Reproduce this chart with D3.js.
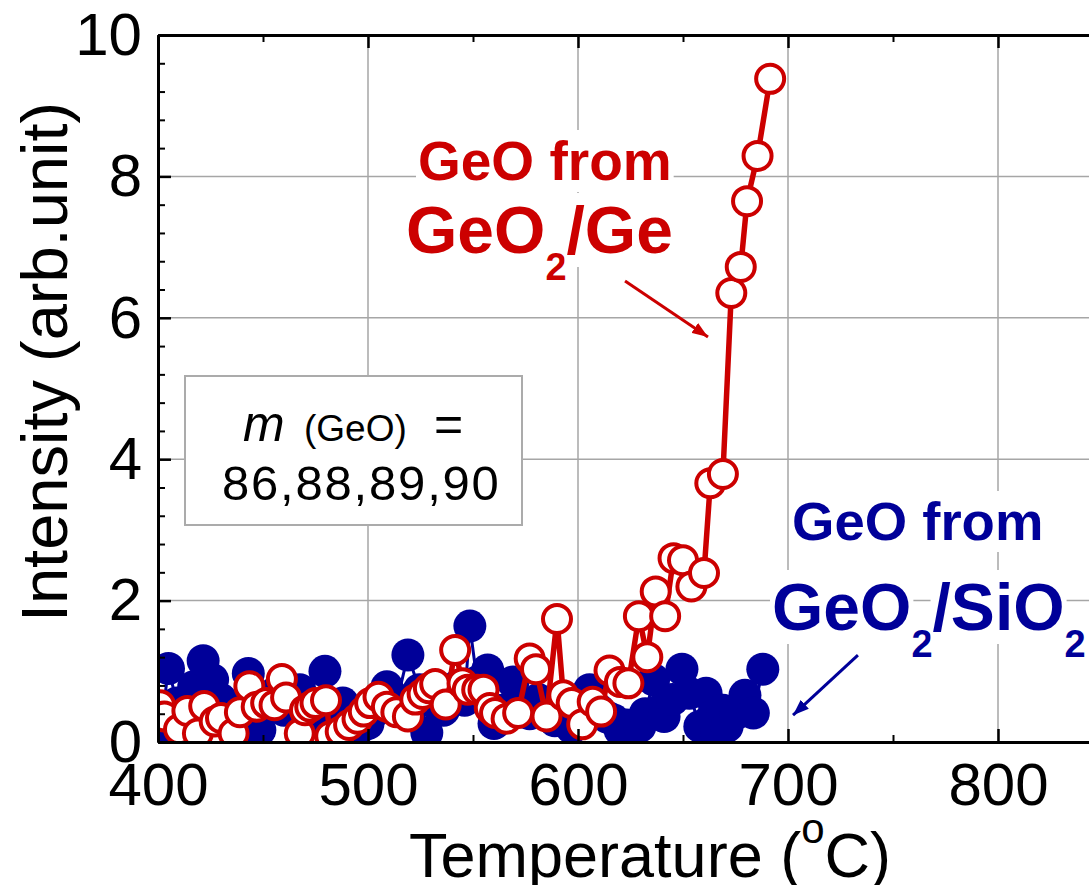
<!DOCTYPE html>
<html>
<head>
<meta charset="utf-8">
<script src="https://cdn.jsdelivr.net/npm/d3@7"></script>
<style>
  html, body { margin: 0; padding: 0; background: #fff; }
  svg { display: block; }
</style>
</head>
<body>
<svg></svg>
<script>
// GeO desorption from GeO2/Ge (red, open) and GeO2/SiO2 (blue, filled)
const redTemp = [401, 403, 410, 414, 419, 422, 427, 430, 436, 439, 443.5, 447, 451.5, 455.5, 459, 461,
    467.5, 470, 472.5, 475, 480, 482, 487, 491, 495, 498, 501, 505, 509, 513.5, 519, 522.5, 526, 529,
    532, 537, 541.5, 545, 547.5, 552, 555, 558, 560.5, 566, 571.5, 577, 580, 585, 590, 593, 597, 602,
    607, 611, 615, 620, 624, 629, 633, 637, 641.5, 645.5, 650, 654, 660, 663, 669, 673, 677.5, 680.5,
    685.5, 691.5];
const redInt = [0.52, 0.36, 0.18, 0.44, 0.12, 0.51, 0.29, 0.34, 0.12, 0.42, 0.79, 0.50, 0.55, 0.52, 0.89, 0.63,
    0.12, 0.45, 0.50, 0.55, 0.59, 0.08, 0.15, 0.24, 0.33, 0.43, 0.55, 0.64, 0.50, 0.42, 0.36, 0.60, 0.68, 0.76,
    0.82, 0.53, 1.30, 0.83, 0.74, 0.74, 0.74, 0.48, 0.41, 0.33, 0.41, 1.18, 1.03, 0.36, 1.74, 0.66, 0.55, 0.25,
    0.57, 0.43, 1.01, 0.85, 0.83, 1.78, 1.20, 2.13, 1.78, 2.60, 2.57, 2.20, 2.39, 3.66, 3.79, 6.35, 6.72, 7.65,
    8.29, 9.38];

const blueTemp = [401, 405, 409, 412, 417, 421.5, 426, 430, 434, 438, 443, 448.5, 452, 456, 460, 464, 467.5,
    472, 476, 479.5, 484, 488, 492, 496, 500, 504, 509, 514, 519, 524.5, 528, 532, 536, 540, 543, 546,
    548.5, 552, 557, 560, 564, 569, 573, 577, 581, 585, 589, 593, 597, 601, 605.5, 610, 614, 617, 620,
    623, 626, 629.5, 632, 636, 639, 641, 645, 649.5, 653, 658, 661, 664, 666, 669, 671, 675, 679.5,
    683.5, 688];
const blueInt = [0.13, 1.04, 0.55, 0.40, 0.78, 1.15, 0.88, 0.60, 0.45, 0.30, 0.97, 0.17, 0.60, 0.70, 0.45, 0.55, 0.74,
    0.40, 0.30, 1.00, 0.45, 0.55, 0.35, 0.20, 0.26, 0.45, 0.78, 0.60, 1.23, 0.74, 0.13, 0.55, 0.45, 0.60, 0.80, 0.59,
    1.64, 0.85, 1.02, 0.26, 0.45, 0.85, 0.55, 0.40, 0.60, 0.55, 0.30, 0.45, 0.20, 0.50, 0.74, 0.45, 0.35, 0.31, 0.17,
    0.24, 0.17, 0.22, 0.40, 0.88, 0.45, 0.36, 0.60, 1.03, 0.69, 0.22, 0.69, 0.36, 0.13, 0.45, 0.22, 0.40, 0.66,
    0.41, 1.03];

const xTicks = [400, 500, 600, 700, 800];
const xMinor = [450, 550, 650, 750, 850];
const yTicks = [0, 2, 4, 6, 8, 10];
const yMinor = [0.4, 0.8, 1.2, 1.6, 2.4, 2.8, 3.2, 3.6, 4.4, 4.8, 5.2, 5.6, 6.4, 6.8, 7.2, 7.6, 8.4, 8.8, 9.2, 9.6];

const width = 1089;
const height = 885;
const red = "#cc0000";
const blue = "#000099";
const grid = "#a6a6a6";
const font = "'Liberation Sans', Arial, sans-serif";

const svg = d3.select("svg")
    .attr("width", width)
    .attr("height", height);

const x = d3.scaleLinear().domain([400, 850]).range([158, 1103]);
const y = d3.scaleLinear().domain([0, 10]).range([742, 35]);

svg.append("defs").append("clipPath")
    .attr("id", "plot")
    .append("rect")
    .attr("x", x(400))
    .attr("y", y(10))
    .attr("width", x(850) - x(400))
    .attr("height", y(0) - y(10));

// grid
svg.append("g").selectAll("line")
    .data(xTicks.slice(1))
    .join("line")
    .attr("x1", d => x(d)).attr("x2", d => x(d))
    .attr("y1", y(0)).attr("y2", y(10))
    .attr("stroke", grid).attr("stroke-width", 1.5);

svg.append("g").selectAll("line")
    .data(yTicks.slice(1, -1))
    .join("line")
    .attr("x1", x(400)).attr("x2", x(850))
    .attr("y1", d => y(d)).attr("y2", d => y(d))
    .attr("stroke", grid).attr("stroke-width", 1.5);

// legend box
const box = svg.append("g").attr("font-family", font);
box.append("rect")
    .attr("x", 185).attr("y", 376)
    .attr("width", 337).attr("height", 149)
    .attr("fill", "#fff")
    .attr("stroke", "#ababab")
    .attr("stroke-width", 2);
box.append("text")
    .attr("x", 243).attr("y", 441)
    .attr("font-style", "italic")
    .attr("font-size", 50)
    .text("m");
box.append("text")
    .attr("x", 304).attr("y", 441)
    .attr("font-size", 37)
    .text("(GeO)");
box.append("text")
    .attr("x", 434).attr("y", 441)
    .attr("font-size", 50)
    .text("=");
box.append("text")
    .attr("x", 222).attr("y", 500)
    .attr("font-size", 49)
    .attr("letter-spacing", 1.8)
    .text("86,88,89,90");

// annotation text with white backgrounds, one chunk at a time
const notes = svg.append("g");
function chunk(str, px, py, size, color) {
    const g = notes.append("g");
    const t = g.append("text")
        .attr("x", px).attr("y", py)
        .attr("font-family", font)
        .attr("font-weight", "bold")
        .attr("font-size", size)
        .attr("fill", color)
        .text(str);
    const b = t.node().getBBox();
    g.insert("rect", "text")
        .attr("x", b.x - 2).attr("y", b.y)
        .attr("width", b.width + 4).attr("height", b.height)
        .attr("fill", "#fff");
    return px + t.node().getComputedTextLength();
}
function formula(parts, px, py, big, small, color) {
    let cx = px;
    parts.forEach(([s, sub]) => {
        cx = sub ? chunk(s, cx, py + 27, small, color) : chunk(s, cx, py, big, color);
    });
}

chunk("GeO from", 418, 180, 55, red);
formula([["GeO", 0], ["2", 1], ["/Ge", 0]], 406, 253, 66, 38, red);
chunk("GeO from", 792, 540, 54.5, blue);
formula([["GeO", 0], ["2", 1], ["/SiO", 0], ["2", 1]], 772, 630, 66, 38, blue);

// arrows
const defs = svg.select("defs");
[["arrRed", red], ["arrBlue", blue]].forEach(([id, c]) => {
    defs.append("marker")
        .attr("id", id)
        .attr("viewBox", "0 0 16 12")
        .attr("refX", 16).attr("refY", 6)
        .attr("markerWidth", 16).attr("markerHeight", 12)
        .attr("markerUnits", "userSpaceOnUse")
        .attr("orient", "auto")
        .append("path")
        .attr("d", "M0,0L16,6L0,12Z")
        .attr("fill", c);
});
svg.append("line")
    .attr("x1", x(622.4)).attr("y1", y(6.52))
    .attr("x2", x(661.9)).attr("y2", y(5.73))
    .attr("stroke", red).attr("stroke-width", 3)
    .attr("marker-end", "url(#arrRed)");
svg.append("line")
    .attr("x1", x(733.3)).attr("y1", y(1.23))
    .attr("x2", x(702.4)).attr("y2", y(0.38))
    .attr("stroke", blue).attr("stroke-width", 3)
    .attr("marker-end", "url(#arrBlue)");

// series
const plot = svg.append("g").attr("clip-path", "url(#plot)");
const blueData = blueTemp.map((t, i) => [t, blueInt[i]]);
const redData = redTemp.map((t, i) => [t, redInt[i]]);
const line = d3.line().x(d => x(d[0])).y(d => y(d[1]));

plot.append("path")
    .datum(blueData)
    .attr("d", line)
    .attr("fill", "none")
    .attr("stroke", blue)
    .attr("stroke-width", 3);
plot.append("g").selectAll("circle")
    .data(blueData)
    .join("circle")
    .attr("cx", d => x(d[0]))
    .attr("cy", d => y(d[1]))
    .attr("r", 16.5)
    .attr("fill", blue);

plot.append("path")
    .datum(redData)
    .attr("d", line)
    .attr("fill", "none")
    .attr("stroke", red)
    .attr("stroke-width", 5.5);
plot.append("g").selectAll("circle")
    .data(redData)
    .join("circle")
    .attr("cx", d => x(d[0]))
    .attr("cy", d => y(d[1]))
    .attr("r", 14)
    .attr("fill", "#fff")
    .attr("stroke", red)
    .attr("stroke-width", 4);

// axes
function styleAxis(g, w) {
    g.select(".domain").attr("stroke", "#000").attr("stroke-width", 3);
    g.selectAll(".tick line").attr("stroke", "#000").attr("stroke-width", w);
    g.selectAll("text").attr("font-family", font).attr("font-size", 60).attr("fill", "#000");
}

svg.append("g")
    .attr("transform", `translate(0,${y(0)})`)
    .call(d3.axisBottom(x).tickValues(xMinor).tickSize(-7).tickSizeOuter(0).tickFormat(""))
    .call(g => styleAxis(g, 2));
svg.append("g")
    .attr("transform", `translate(0,${y(0)})`)
    .call(d3.axisBottom(x).tickValues(xTicks).tickSize(-13).tickSizeOuter(0).tickPadding(20))
    .call(g => styleAxis(g, 2.5));

svg.append("g")
    .attr("transform", `translate(0,${y(10)})`)
    .call(d3.axisTop(x).tickValues(xMinor).tickSize(-7).tickSizeOuter(0).tickFormat(""))
    .call(g => styleAxis(g, 2));
svg.append("g")
    .attr("transform", `translate(0,${y(10)})`)
    .call(d3.axisTop(x).tickValues(xTicks).tickSize(-13).tickSizeOuter(0).tickFormat(""))
    .call(g => styleAxis(g, 2.5));

svg.append("g")
    .attr("transform", `translate(${x(400)},0)`)
    .call(d3.axisLeft(y).tickValues(yMinor).tickSize(-7).tickSizeOuter(0).tickFormat(""))
    .call(g => styleAxis(g, 2));
svg.append("g")
    .attr("transform", `translate(${x(400)},0)`)
    .call(d3.axisLeft(y).tickValues(yTicks).tickSize(-13).tickSizeOuter(0).tickPadding(16))
    .call(g => styleAxis(g, 2.5));

// axis titles
svg.append("text")
    .attr("transform", "translate(67,362) rotate(-90)")
    .attr("text-anchor", "middle")
    .attr("font-family", font)
    .attr("font-size", 65)
    .text("Intensity (arb.unit)");

const xt = svg.append("text")
    .attr("x", 409).attr("y", 877)
    .attr("font-family", font)
    .attr("font-size", 63);
xt.append("tspan").text("Temperature (");
xt.append("tspan").attr("font-size", 42).attr("dy", -34).text("o");
xt.append("tspan").attr("dy", 34).text("C)");
</script>
</body>
</html>
